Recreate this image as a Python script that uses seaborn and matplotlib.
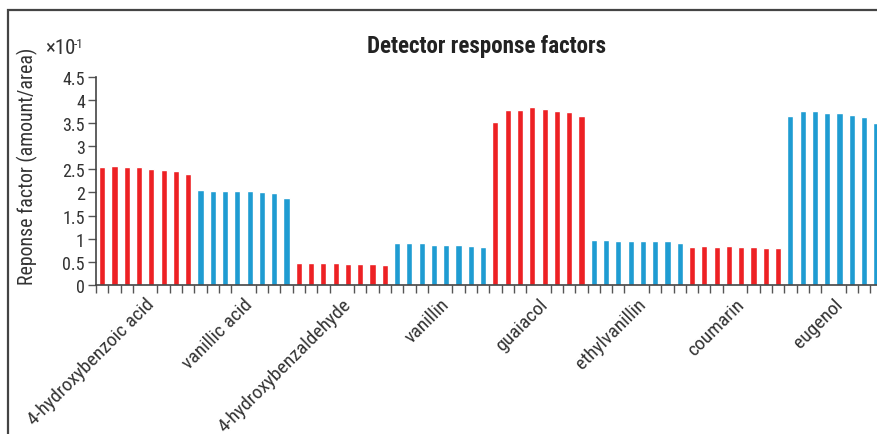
import numpy as np
import pandas as pd
import matplotlib
matplotlib.use("Agg")
import matplotlib.pyplot as plt
import seaborn as sns
from matplotlib import font_manager
from matplotlib.patches import Rectangle

# ---- data ----
compounds = ["4-hydroxybenzoic acid", "vanillic acid", "4-hydroxybenzaldehyde",
             "vanillin", "guaiacol", "ethylvanillin", "coumarin", "eugenol"]
hydroxybenzoic_acid = [2.56, 2.58, 2.54, 2.56, 2.50, 2.48, 2.46, 2.39]
vanillic_acid = [2.06, 2.04, 2.04, 2.04, 2.02, 2.00, 1.98, 1.89]
hydroxybenzaldehyde = [0.48, 0.48, 0.48, 0.48, 0.46, 0.46, 0.46, 0.44]
vanillin = [0.90, 0.90, 0.90, 0.87, 0.87, 0.87, 0.85, 0.83]
guaiacol = [3.52, 3.78, 3.78, 3.84, 3.80, 3.76, 3.74, 3.65]
ethylvanillin = [0.98, 0.98, 0.96, 0.96, 0.94, 0.94, 0.94, 0.90]
coumarin = [0.83, 0.85, 0.83, 0.85, 0.83, 0.83, 0.81, 0.79]
eugenol = [3.65, 3.76, 3.76, 3.71, 3.71, 3.67, 3.63, 3.50]
series = [hydroxybenzoic_acid, vanillic_acid, hydroxybenzaldehyde, vanillin,
          guaiacol, ethylvanillin, coumarin, eugenol]
y_ticks = [0, 0.5, 1, 1.5, 2, 2.5, 3, 3.5, 4, 4.5]
y_tick_labels = ["0", "0.5", "1", "1.5", "2", "2.5", "3", "3.5", "4", "4.5"]

# ---- font ----
names = {f.name for f in font_manager.fontManager.ttflist}
family = "Liberation Sans"
for cand in ["Roboto Condensed", "Liberation Sans Narrow", "Open Sans Condensed",
             "DejaVu Sans Condensed", "Arial Narrow"]:
    if cand in names:
        family = cand
        break

sns.set_theme(style="white")
plt.rcParams["font.family"] = [family, "DejaVu Sans"]

RED = "#ED2124"
BLUE = "#1F9CD2"
GRAY = "#333333"

rows = []
for ci, (c, vals) in enumerate(zip(compounds, series)):
    for ri, v in enumerate(vals):
        rows.append({"bar": f"{ci}-{ri}", "compound": c, "value": v})
df = pd.DataFrame(rows)
order = list(df["bar"])
palette = {c: (RED if i % 2 == 0 else BLUE) for i, c in enumerate(compounds)}

W, H = 878, 435
fig = plt.figure(figsize=(W / 100, H / 100), dpi=100)
n = len(order)
pitch = 12.29
ax = fig.add_axes([96 / W, (H - 286) / H, n * pitch / W, (286 - 77.7) / H])

sns.barplot(data=df, x="bar", y="value", hue="compound", order=order,
            hue_order=compounds, palette=palette, dodge=False, width=0.5,
            saturation=1, legend=False, ax=ax)

ax.set_xlim(-0.5, n - 0.5)
ax.set_ylim(0, 4.5)
ax.set_yticks(y_ticks)
ax.set_yticklabels(y_tick_labels)
centers = [i * 8 + 3.5 for i in range(len(compounds))]
ax.set_xticks(centers)
ax.set_xticklabels(compounds, rotation=45, ha="right", rotation_mode="anchor",
                   fontsize=14, color=GRAY)
ax.set_xticks(np.arange(-0.5, n, 1.0), minor=True)
ax.tick_params(axis="x", which="major", length=0, pad=7)
ax.tick_params(axis="x", which="minor", length=6, width=1, color="#555555",
               direction="out", bottom=True)
ax.tick_params(axis="y", length=6, width=1, color="#555555", direction="out",
               left=True, labelsize=13, labelcolor=GRAY, pad=2)
ax.set_xlabel("")
ax.set_ylabel("")
for s in ["top", "right"]:
    ax.spines[s].set_visible(False)
for s in ["left", "bottom"]:
    ax.spines[s].set_color("#444444")
    ax.spines[s].set_linewidth(1.2)

fig.text(27.5 / W, 1 - 166 / H, "Reponse factor (amount/area)", rotation=90,
         ha="center", va="center", fontsize=14.3, color=GRAY)
fig.text(487 / W, 1 - 46 / H, "Detector response factors", ha="center",
         va="center", fontsize=16.6, fontweight="bold", color="#222222")
fig.text(45 / W, 1 - 48 / H, "×10", ha="left", va="center", fontsize=15,
         color=GRAY)
fig.text(74 / W, 1 - 44 / H, "-1", ha="left", va="center", fontsize=9.5,
         color=GRAY)

fig.patches.append(Rectangle((8 / W, -0.1), 1.2, (H - 11) / H + 0.1,
                             transform=fig.transFigure, fill=False,
                             edgecolor="#444444", linewidth=1.6))

fig.savefig("out.png", dpi=100)
